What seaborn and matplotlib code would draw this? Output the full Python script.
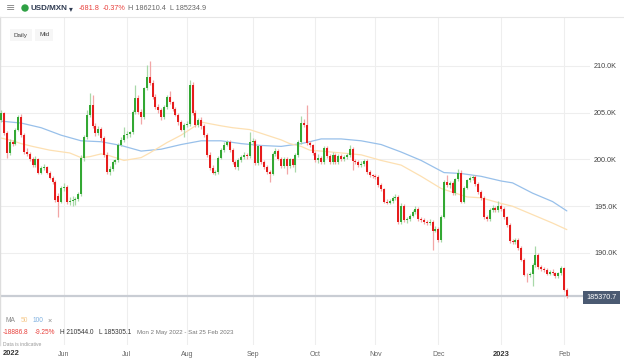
import numpy as np
import pandas as pd
import matplotlib
matplotlib.use("Agg")
import matplotlib.pyplot as plt
import matplotlib.patches as mpatches
import seaborn as sns

# ---------------- data (values in thousands, USD/MXN x 10000) ----------------
dates = pd.bdate_range("2022-05-02", "2023-02-02")

open_ = [204.2, 205.0, 202.8, 200.7, 201.9, 201.7, 203.2, 204.5, 202.6, 200.8,
         200.6, 200.0, 199.4, 200.1, 198.6, 199.1, 199.2, 198.6, 198.0, 197.6,
         196.1, 195.5, 197.0, 197.1, 195.5, 195.6, 195.7, 195.8, 196.3, 200.2,
         202.4, 204.8, 205.8, 203.6, 202.8, 203.3, 202.3, 200.5, 198.7, 199.0,
         199.7, 199.9, 201.6, 202.1, 202.6, 202.7, 202.9, 205.1, 206.6, 205.1,
         204.5, 207.6, 208.8, 208.2, 206.7, 205.6, 205.3, 204.5, 205.6, 206.7,
         206.1, 205.4, 204.8, 204.0, 203.2, 203.7, 203.8, 208.0, 205.0, 203.7,
         204.2, 203.6, 202.6, 200.5, 199.1, 198.6, 198.7, 200.2, 201.0, 201.6,
         201.9, 201.0, 199.7, 199.2, 199.9, 200.3, 200.5, 200.4, 201.9, 202.0,
         199.6, 201.4, 199.7, 199.2, 198.7, 198.5, 200.6, 200.9, 200.1, 199.3,
         200.1, 199.3, 200.0, 199.4, 200.5, 201.9, 203.9, 203.7, 201.8, 201.5,
         200.7, 199.9, 200.2, 199.7, 201.2, 200.4, 199.7, 200.5, 199.7, 200.4,
         200.0, 200.3, 200.5, 201.1, 199.8, 199.7, 199.4, 199.5, 199.8, 198.7,
         198.3, 198.2, 198.1, 197.3, 196.8, 195.5, 195.4, 195.6, 195.9, 196.0,
         193.3, 195.0, 193.5, 193.6, 194.0, 194.4, 194.7, 193.6, 193.5, 193.3,
         193.2, 193.3, 192.4, 192.6, 191.4, 193.9, 197.6, 197.3, 197.5, 196.4,
         197.9, 198.6, 195.5, 197.0, 197.8, 198.0, 198.1, 197.4, 196.5, 195.9,
         193.8, 193.6, 194.6, 194.8, 194.6, 195.0, 194.7, 193.8, 193.0, 191.3,
         191.2, 191.4, 190.5, 189.3, 187.7, 187.6, 187.8, 188.7, 189.8, 188.5,
         188.3, 188.2, 187.8, 188.0, 187.9, 187.5, 187.9, 188.4, 186.0525]

high = [205.3, 205.1, 203.0, 202.2, 202.1, 203.4, 204.8, 204.9, 202.8, 201.2,
        200.8, 200.3, 200.4, 200.2, 199.3, 199.5, 199.3, 198.8, 198.2, 197.8,
        196.4, 197.2, 197.5, 197.3, 196.0, 196.1, 196.0, 196.5, 200.5, 202.6,
        205.3, 207.1, 206.9, 203.9, 203.6, 203.5, 202.5, 200.8, 199.3, 199.9,
        200.1, 201.8, 202.4, 203.5, 203.0, 203.1, 205.3, 208.0, 206.9, 205.4,
        207.8, 210.1, 210.544, 208.5, 207.0, 205.9, 205.5, 205.8, 206.9, 207.3,
        206.3, 205.6, 205.0, 204.2, 203.9, 204.1, 208.5, 208.3, 205.3, 204.4,
        204.5, 203.8, 202.8, 200.8, 199.4, 198.9, 200.4, 201.2, 201.9, 202.1,
        202.1, 201.2, 199.9, 200.2, 200.5, 200.8, 200.7, 202.9, 202.3, 202.2,
        201.6, 201.6, 199.9, 199.4, 198.9, 200.8, 201.2, 201.1, 200.3, 200.3,
        200.3, 200.2, 200.2, 200.7, 202.1, 204.6, 204.3, 205.8, 202.0, 201.7,
        200.9, 200.6, 200.4, 201.4, 201.4, 200.6, 200.8, 200.7, 200.6, 200.6,
        200.5, 200.7, 201.5, 201.3, 200.0, 199.9, 199.8, 200.1, 200.0, 198.9,
        198.5, 198.4, 198.3, 197.5, 197.0, 195.8, 195.8, 196.1, 196.3, 196.2,
        195.3, 195.2, 193.8, 194.2, 194.6, 195.0, 194.9, 193.8, 193.7, 193.5,
        193.6, 193.5, 192.9, 192.8, 194.1, 197.8, 198.3, 197.7, 197.7, 198.0,
        199.0, 198.9, 197.2, 197.9, 198.2, 198.3, 198.3, 197.6, 196.7, 196.1,
        194.1, 194.8, 195.1, 195.0, 195.6, 195.2, 194.9, 194.0, 193.2, 191.5,
        191.6, 191.6, 190.7, 189.5, 187.9, 188.0, 188.9, 190.8, 190.0, 188.7,
        188.5, 188.4, 188.2, 188.3, 188.0, 188.0, 188.6, 188.5, 186.2104]

low = [204.0, 202.6, 200.2, 200.5, 201.4, 201.5, 203.0, 202.4, 200.6, 200.4,
       199.8, 199.2, 199.2, 198.4, 198.4, 198.9, 198.4, 197.9, 197.4, 195.5,
       193.9, 195.3, 196.6, 195.2, 195.1, 195.0, 195.1, 195.6, 196.1, 199.8,
       202.2, 204.5, 203.4, 202.5, 202.6, 202.0, 200.3, 198.5, 198.3, 198.8,
       199.5, 199.7, 201.4, 201.9, 202.3, 202.4, 202.7, 204.9, 204.9, 203.8,
       204.3, 207.4, 208.0, 206.5, 205.4, 205.0, 204.2, 204.3, 205.4, 205.9,
       205.2, 204.6, 203.7, 203.0, 202.4, 203.5, 203.6, 204.8, 203.5, 203.5,
       203.3, 202.4, 200.3, 198.9, 198.4, 198.3, 198.5, 200.0, 200.8, 201.4,
       200.8, 199.5, 199.0, 198.9, 199.7, 200.1, 200.0, 200.2, 201.6, 199.4,
       199.4, 199.5, 199.0, 198.5, 197.6, 198.3, 200.4, 199.9, 199.1, 199.1,
       198.5, 199.1, 199.2, 198.7, 200.3, 201.7, 203.5, 201.6, 201.3, 200.5,
       199.7, 199.6, 199.5, 199.5, 200.2, 199.5, 199.5, 199.5, 199.5, 199.8,
       199.8, 200.1, 200.3, 198.9, 199.5, 199.2, 199.2, 199.3, 198.5, 198.1,
       198.0, 197.9, 197.1, 196.6, 195.3, 195.2, 195.2, 195.4, 195.7, 193.1,
       193.1, 193.3, 193.2, 193.4, 193.8, 194.2, 193.4, 193.3, 193.1, 193.0,
       193.0, 190.3, 192.2, 191.2, 191.2, 193.7, 197.1, 197.0, 196.2, 196.2,
       197.7, 195.3, 195.3, 196.8, 197.6, 197.8, 197.2, 196.3, 195.7, 193.6,
       193.4, 193.4, 194.4, 194.4, 194.4, 194.5, 193.6, 192.8, 191.1, 191.0,
       191.0, 190.3, 189.1, 187.5, 186.9, 187.4, 186.5, 188.5, 188.3, 188.1,
       188.0, 187.6, 187.6, 187.7, 187.3, 187.3, 187.7, 185.9, 185.2349]

close = [205.0, 202.8, 200.7, 201.9, 201.7, 203.2, 204.5, 202.6, 200.8, 200.6,
         200.0, 199.4, 200.1, 198.6, 199.1, 199.2, 198.6, 198.0, 197.6, 195.7,
         195.5, 197.0, 197.1, 195.5, 195.6, 195.7, 195.8, 196.3, 200.2, 202.4,
         204.8, 205.8, 203.6, 202.8, 203.3, 202.3, 200.5, 198.7, 199.0, 199.7,
         199.9, 201.6, 202.1, 202.6, 202.7, 202.9, 205.1, 206.6, 205.1, 204.5,
         207.6, 208.8, 208.2, 206.7, 205.6, 205.3, 204.5, 205.6, 206.7, 206.1,
         205.4, 204.8, 204.0, 203.2, 203.7, 203.8, 208.0, 205.0, 203.7, 204.2,
         203.6, 202.6, 200.5, 199.1, 198.6, 198.7, 200.2, 201.0, 201.6, 201.9,
         201.0, 199.7, 199.2, 199.9, 200.3, 200.5, 200.4, 201.9, 202.0, 199.6,
         201.4, 199.7, 199.2, 198.7, 198.5, 200.6, 200.9, 200.1, 199.3, 200.1,
         199.3, 200.0, 199.4, 200.5, 201.9, 203.9, 203.7, 201.8, 201.5, 200.7,
         199.9, 200.2, 199.7, 201.2, 200.4, 199.7, 200.5, 199.7, 200.4, 200.0,
         200.3, 200.5, 201.1, 199.8, 199.7, 199.4, 199.5, 199.8, 198.7, 198.3,
         198.2, 198.1, 197.3, 196.8, 195.5, 195.4, 195.6, 195.9, 196.0, 193.3,
         195.0, 193.5, 193.6, 194.0, 194.4, 194.7, 193.6, 193.5, 193.3, 193.2,
         193.3, 192.4, 192.6, 191.4, 193.9, 197.6, 197.3, 197.5, 196.4, 197.9,
         198.6, 195.5, 197.0, 197.8, 198.0, 198.1, 197.4, 196.5, 195.9, 193.8,
         193.6, 194.6, 194.8, 194.6, 195.0, 194.7, 193.8, 193.0, 191.3, 191.2,
         191.4, 190.5, 189.3, 187.7, 187.6, 187.8, 188.7, 189.8, 188.5, 188.3,
         188.2, 187.8, 188.0, 187.9, 187.5, 187.9, 188.4, 186.0525, 185.3707]

# moving averages (trading-day position, value)
ma50_pos = [0, 4, 7, 11, 17, 24, 28, 31, 35, 38, 43, 49, 52, 58, 63, 70, 77, 81,
            87, 93, 98, 101, 105, 108, 112, 119, 126, 133, 140, 147, 154, 158,
            163, 168, 175, 179, 186, 193, 198]
ma50_val = [202.3, 202.0, 201.7, 201.4, 201.0, 200.7, 200.2, 200.3, 200.6, 200.4,
            199.9, 200.2, 200.7, 201.8, 202.6, 204.0, 203.6, 203.4, 203.2, 202.6,
            202.1, 201.7, 201.4, 201.0, 200.9, 200.7, 200.5, 199.9, 199.4, 198.2,
            196.9, 196.5, 196.0, 195.9, 195.3, 195.0, 194.1, 193.2, 192.5]
ma100_pos = [0, 7, 14, 21, 28, 35, 42, 49, 56, 63, 70, 77, 84, 91, 98, 105, 108,
             112, 119, 126, 133, 140, 147, 155, 161, 168, 175, 179, 186, 193, 198]
ma100_val = [204.1, 203.9, 203.4, 202.6, 202.0, 201.9, 201.5, 200.9, 201.1, 201.6,
             202.0, 202.0, 201.7, 201.5, 201.4, 201.7, 201.9, 202.2, 202.2, 202.0,
             201.6, 200.8, 199.9, 198.6, 198.5, 198.2, 197.7, 197.5, 196.4, 195.5,
             194.5]

y_ticks = [190, 195, 200, 205, 210]
month_names = ["Jun", "Jul", "Aug", "Sep", "Oct", "Nov", "Dec", "2023", "Feb"]

# ---------------- styling ----------------
sns.set_theme(style="white")
plt.rcParams['font.family'] = ['Liberation Sans', 'DejaVu Sans']

W, H = 624, 359
def fx(px): return px / W
def fy(py): return 1 - py / H

fig = plt.figure(figsize=(6.24, 3.59), dpi=100)
fig.patch.set_facecolor("white")

ax_top, ax_bot, ax_right = 17, 345, 590
ax = fig.add_axes([0, fy(ax_bot), fx(ax_right), (ax_bot - ax_top) / H])

df = pd.DataFrame({"date": dates, "open": open_, "high": high, "low": low, "close": close})
df["pos"] = np.arange(len(df))
df["up"] = df["close"] >= df["open"]

green, red = "#33a833", "#e61c1c"
wick_g, wick_r = "#a8d8a8", "#f2a6a6"

# grid
for t in y_ticks:
    ax.axhline(t, color="#eeeeee", lw=0.8, zorder=0)
month_pos = [int(np.argmax((df["date"].dt.year == d.year) & (df["date"].dt.month == d.month)))
             for d in pd.date_range("2022-06-01", "2023-02-01", freq="MS")]
for p in month_pos:
    ax.axvline(p, color="#eeeeee", lw=0.8, zorder=0)

# MA lines
sns.lineplot(x=ma100_pos, y=ma100_val, ax=ax, color="#98c0ea", lw=0.9, zorder=2)
sns.lineplot(x=ma50_pos, y=ma50_val, ax=ax, color="#fde0b2", lw=0.9, zorder=2)

# candles
ax.vlines(df["pos"], df["low"], df["high"],
          colors=np.where(df["up"], wick_g, wick_r), lw=0.9, zorder=3)
body_h = np.maximum((df["close"] - df["open"]).abs(), 0.08)
body_b = np.minimum(df["open"], df["close"])
ax.bar(df["pos"], body_h, bottom=body_b, width=0.72,
       color=np.where(df["up"], green, red), linewidth=0, zorder=4)

# last price line
ax.axhline(close[-1], color="#c9cdd4", lw=1.6, zorder=1)

ax.set_xlim(-0.385, 206.1)
ax.set_ylim(180.16, 215.24)

ax.yaxis.tick_right()
ax.set_yticks(y_ticks)
ax.set_yticklabels([f"{v:.1f}K" for v in y_ticks])
ax.tick_params(axis="y", length=0, pad=3, labelsize=5.2, labelcolor="#444444")

ax.set_xticks(month_pos)
ax.set_xticklabels(month_names)
ax.tick_params(axis="x", length=0, pad=4, labelsize=5, labelcolor="#666666")
for lab in ax.get_xticklabels():
    if lab.get_text().isdigit():
        lab.set_fontweight("bold")
        lab.set_color("#333333")
        lab.set_fontsize(5.4)

for s in ["top", "right", "bottom"]:
    ax.spines[s].set_visible(False)
ax.spines["left"].set_color("#dddddd")
ax.spines["left"].set_linewidth(1.0)

# ---------------- header ----------------
fig.add_artist(plt.Line2D([0, 1], [fy(17), fy(17)], color="#e6e6e6", lw=0.8,
                          transform=fig.transFigure))
fig.text(fx(6), fy(8), "≡", fontsize=8, color="#888888", va="center", ha="left",
         family="DejaVu Sans")
fig.add_artist(mpatches.Ellipse((fx(25), fy(8)), 6 / W, 6 / H, color="#2ea043",
                                transform=fig.transFigure))
fig.text(fx(31), fy(8), "USD/MXN", fontsize=5.8, fontweight="bold", color="#2f3b52",
         va="center", ha="left")
fig.text(fx(69), fy(8.5), "▾", fontsize=5.5, color="#2f3b52", va="center", ha="left",
         family="DejaVu Sans")
fig.text(fx(79), fy(8), "-681.8", fontsize=5.2, color="#e8413c", va="center", ha="left")
fig.text(fx(103), fy(8), "-0.37%", fontsize=5.2, color="#e8413c", va="center", ha="left")
fig.text(fx(128), fy(8), "H 186210.4  L 185234.9", fontsize=5.2, color="#666666",
         va="center", ha="left")

fig.text(fx(14), fy(35), "Daily", fontsize=4.6, color="#444444", va="center", ha="left",
         bbox=dict(boxstyle="square,pad=0.6", fc="#f6f6f6", ec="none"))
fig.text(fx(39), fy(35), "Mid", fontsize=4.6, color="#444444", va="center", ha="left",
         bbox=dict(boxstyle="square,pad=0.6", fc="#f6f6f6", ec="none"))

# price tag
fig.text(fx(601.5), fy(297.5), f"{close[-1] * 1000:.1f}", fontsize=5.2, color="white",
         va="center", ha="center",
         bbox=dict(boxstyle="square,pad=0.45", fc="#4b5a72", ec="none"))

# ---------------- footer ----------------
fig.text(fx(6), fy(321), "MA", fontsize=4.8, color="#888888", va="center", ha="left")
fig.text(fx(20.5), fy(321), "50", fontsize=4.8, color="#f6c98a", va="center", ha="left")
fig.text(fx(33), fy(321), "100", fontsize=4.8, color="#7fb0e0", va="center", ha="left")
fig.text(fx(48), fy(321), "×", fontsize=5.2, color="#888888", va="center", ha="left")

fig.text(fx(3), fy(332.5), "-18886.8", fontsize=4.7, color="#e8413c", va="center", ha="left")
fig.text(fx(35), fy(332.5), "-9.25%", fontsize=4.7, color="#e8413c", va="center", ha="left")
fig.text(fx(60), fy(332.5), "H 210544.0", fontsize=4.7, color="#333333", va="center", ha="left")
fig.text(fx(99), fy(332.5), "L 185305.1", fontsize=4.7, color="#333333", va="center", ha="left")
fig.text(fx(137), fy(332.5), "Mon 2 May 2022 - Sat 25 Feb 2023", fontsize=4.4,
         color="#777777", va="center", ha="left")
fig.text(fx(3), fy(344), "Data is indicative", fontsize=3.6, color="#999999",
         va="center", ha="left")
fig.text(fx(3), fy(353.5), "2022", fontsize=5.4, fontweight="bold", color="#333333",
         va="center", ha="left")

fig.savefig("out.png", dpi=100, facecolor="white")
